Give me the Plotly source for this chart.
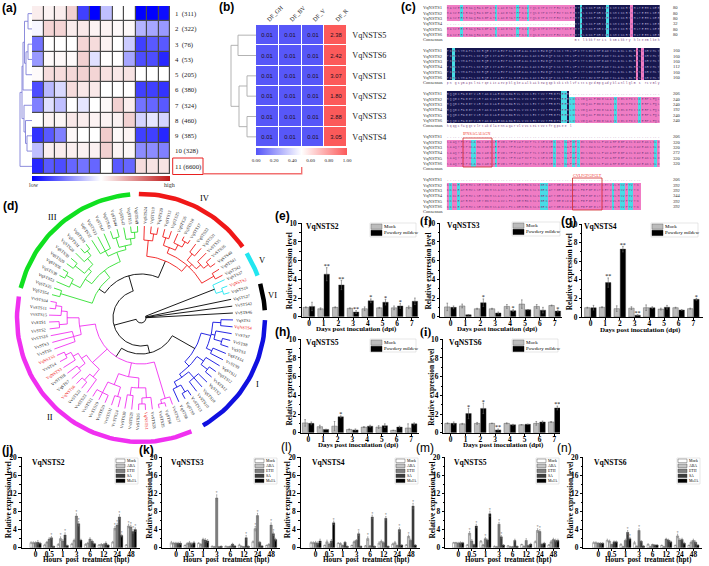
import math
import plotly.graph_objects as go

W, H = 709, 566
SERIF = "Liberation Serif"
SANS = "Liberation Sans"

# ---- panel a: cluster heatmap
a_rows = ["1  (311)", "2  (322)", "3  (76)", "4  (53)", "5  (205)", "6  (380)",
          "7  (324)", "8  (460)", "9  (385)", "10 (328)", "11 (6600)"]
a_z = [
    [.08, .05, .08, .2, -.75, -1, -.25, 0, 0, -1, -1, -.95],
    [-.03, .18, .18, .08, .1, .05, .05, .03, .03, -.3, -.35, -.4],
    [-.55, 0, 0, 0, .18, .15, .05, 0, -.2, -.75, -.65, -.65],
    [-.4, .02, .03, .02, .2, -.12, 0, 0, -.35, -.7, -.7, -.85],
    [.02, .15, .15, .17, .2, .18, .13, .1, .12, 0, 0, 0],
    [-.7, -.28, -.15, .15, .1, .1, 0, 0, 0, -.75, -.75, -.8],
    [-.5, -.12, -.25, 0, -.1, 0, .03, .2, .08, -.55, -.6, -.65],
    [0, .05, .04, .1, .08, .05, .05, .06, .2, -.17, -.1, -.17],
    [-.8, -.65, -.5, .03, 0, 0, .22, .03, .05, -.75, -.75, -.85],
    [-.25, .07, .08, .07, .06, .06, .2, .05, .04, -.45, -.45, -.5],
    [-.85, -.65, -.7, -.6, -.55, -.6, 0, -.65, -.6, .15, .12, .12],
]
# (height, left, right), leaves are row numbers
a_tree = (12, (10, (9, (7.5, (4, 1, 2), (6, (4, 3, 4), 5)), 6),
               (8, 7, (6.5, 8, (5, 9, 10)))), 11)

# ---- panel b
b_rows = ["VqNSTS5", "VqNSTS6", "VqNSTS1", "VqNSTS2", "VqNSTS3", "VqNSTS4"]
b_cols = ["DF_GH", "DF_BV", "DF_V", "DF_R"]
b_df_r = [2.38, 2.42, 3.07, 1.80, 2.88, 3.05]
b_df_other = [0.01, 0.01, 0.01]
b_tree = (25, (18, 1, 2), (17, (9, 3, 4), (9, 5, 6)))

# ---- panel c: alignment, one string per block
c_seq = [
    "MASVEEIRNAQRAKGPATILAIGTATPPNCVYQSDYPDYYFRVTKSEHMTELKKKFNRICEKSMIKKRYIHLTEEMLKEH",
    "PNMCSYMAPSLNIRQEIITAEVPKLGKEAALKAIKEWGQPKSKITHLVFCTTSGVDMPGADYKLANLLGLRPSVKRVMLY",
    "HQQGCFAGGTVLRTAKDLAENNAGARVLVVCSEITVVTFRGPSEEHLDSLVGQALFGDGSAAVIIGSDPDISIERPLFQLV",
    "SAAQTFIPNSAGAIAGNLREVGLTFHLWPNVPTLISENIEKCLTKAFDPLGISDWNSLFWIAHPGGPAILDAVEAKLNLD",
    "KKKLEATRHVLSEYGNMSSACVLFILDEMRKKSLKGEKATTGEGLDWGVLFGFGPGLTIETVVLHSVPTVTN",
]
c_consensus = [
    " " * 48 + "mt lkkkfnric ksmikkry hlteemlkeh",
    "pn gsymapslnirqeiitaevpklgkeaalkaikewgqpkskithlvfcttsgvdmpgadyklanllglm s rcvmly",
    "hqqgcfaggtvlrtakdlaennagarvlvvcseitvvtfrgpsee l",
    "",
    "",
]
c_runs = [
    [("P", 5), ("C", 1), ("P", 12), ("C", 1), ("P", 7), ("C", 1), ("P", 3), ("C", 1), ("P", 17),
     ("N", 2), ("C", 1), ("N", 9), ("C", 1), ("N", 8), ("P", 1), ("N", 10)],
    [("N", 2), ("C", 1), ("N", 68), ("P", 1), ("N", 1), ("P", 1), ("N", 6)],
    [("N", 43), ("C", 2), ("N", 1), ("C", 2), ("P", 15), ("C", 1), ("P", 8), ("C", 1), ("P", 7)],
    [("P", 9), ("C", 2), ("P", 7), ("C", 1), ("P", 21), ("C", 1), ("P", 3), ("C", 1), ("P", 2),
     ("C", 1), ("P", 1), ("C", 1), ("P", 28), ("C", 1), ("P", 1)],
    [("P", 1), ("C", 1), ("P", 2), ("C", 1), ("P", 30), ("C", 3), ("P", 24), ("C", 1), ("P", 2),
     ("C", 2), ("P", 1), ("C", 2), ("P", 3)],
]
c_names = ["VqNSTS1", "VqNSTS2", "VqNSTS3", "VqNSTS4", "VqNSTS5", "VqNSTS6"]
c_ends = [[80, 80, 80, 32, 80, 80], [160, 160, 160, 112, 160, 160], [206, 240, 240, 192, 240, 240],
          [206, 320, 320, 272, 320, 320], [206, 392, 392, 344, 392, 392]]

# ---- panel d: tree, clockwise from clade V round to clade IV
d_V = ["VqSTS37", "VqNSTS2", "VqSTS16"]
d_VI = ["VqSTS27", "VvSTS42", "VvSTS46"]
d_I = ["VqSTS1", "VqNSTS4", "VvSTS7", "VvSTS8", "VqSTS3", "VqSTS14", "VvSTS9", "VqSTS11",
       "VqSTS12", "VvSTS12", "VqSTS2", "VqSTS10", "VvSTS10", "VvSTS13", "VqSTS9", "VqSTS8"]
d_II = ["VvSTS27", "VqSTS6", "VvSTS25", "VvSTS28", "VqNSTS1", "VvSTS26", "VvSTS29", "VvSTS30",
        "VvSTS24", "VvSTS31", "VvSTS20", "VvSTS19", "VvSTS21", "VvSTS23", "VvSTS22", "VqNSTS6",
        "VqSTS7", "VvSTS18", "VqNSTS3", "VvSTS4", "VqNSTS5", "VvSTS5", "VvSTS3", "VvSTS16",
        "VvSTS2", "VvSTS1", "VvSTS15", "VvSTS11", "VvSTS34"]
d_III = ["VqSTS54", "VqSTS35", "VqSTS53", "VqSTS38", "VqSTS56", "VqSTS29", "VqSTS30", "VqSTS28",
         "VqSTS31", "VqSTS39", "VqSTS32", "VqSTS33", "VqSTS47", "VqSTS45", "VqSTS44", "VqSTS43",
         "VqSTS15", "VqSTS49"]
d_IV = ["VqSTS24", "VqSTS19", "VqSTS20", "VqSTS13", "VqSTS25", "VqSTS26", "VqSTS18", "VqSTS17",
        "VqSTS22", "VqSTS21", "VvSTS35", "VvSTS36", "VqSTS40", "VqSTS41", "VqSTS42"]
d_labels = d_V + d_VI + d_I + d_II + d_III + d_IV

# node = (radius, children[, colour]), 0 = next leaf
tree_V = (79, [0, (86, [0, 0])], "#22e6f0")
tree_I = (62, [(72, [(80, [0, 0]), (76, [0, (84, [0, 0])]), (78, [0, 0])]),
               (68, [(76, [0, (84, [0, 0])]), (72, [(80, [0, 0, 0]), (78, [(86, [0, 0]), 0])])])], "#1010e0")
tree_II = (46, [(84, [0, (88, [0, 0])]),
                (60, [(70, [(80, [0, (86, [0, 0])]), (78, [0, 0])]), (72, [(82, [0, 0]), (84, [0, 0, 0])])]),
                (66, [(76, [0, (84, [0, 0])]), (72, [(80, [0, 0]), (78, [0, (84, [0, 0])])])]),
                (62, [(70, [0, 0, 0]), (74, [(82, [0, 0]), (80, [0, (86, [0, 0])])])])], "#f030f0")
tree_III = (51, [(84, [0, 0]),
                 (60, [(68, [(78, [0, (86, [0, 0])]), (72, [(84, [0, 0]), (80, [0, (86, [0, 0])])])]),
                       (70, [(76, [0, 0, 0]), (74, [(84, [0, 0]), (80, [0, (86, [0, 0])])])])])], "#30e030")
tree_IV = (62, [(78, [0, (85, [0, 0])]),
                (70, [(76, [(84, [0, 0]), (82, [0, (88, [0, 0])])]),
                      (74, [(82, [0, 0]), (80, [0, (86, [0, 0])])]), (84, [0, 0])])], "#f01818")
tree_d = (5, [tree_V, 0, 0, 0, (28, [(36, [tree_I, tree_II]), (44, [tree_III, tree_IV])])])

d_clades = ["I", "II", "III", "IV", "V", "VI"]
d_ring_start = [-1, -66, 166, 91, 31.5, 16]
d_ring_end = [-60, -190, 95, 35, 20, 3.6]
d_ring_colour = ["#1010e0", "#f030f0", "#10e020", "#f01818", "#22e6f0", "#000000"]

# ---- panels e-i: powdery mildew
days = ["0", "1", "2", "3", "4", "5", "6", "7"]
e_mock = [1.0, .85, 1.0, .9, .85, .95, .95, 1.0]
e_pm = [1.1, 4.55, 3.4, .5, 1.7, 1.55, 1.15, 1.65]
e_mock_err = [.05, .1, .05, .05, .2, .05, .2, .15]
e_pm_err = [.45, .7, .5, .15, .2, .3, .25, .35]
e_stars = ["", "**", "**", "**", "*", "*", "*", ""]
f_mock = [1.05, 1.15, .85, .85, 1.1, 1.35, 1.1, 1.2]
f_pm = [1.0, .2, 1.5, .4, .65, .75, .7, .6]
f_mock_err = [.4, .2, .05, .05, .2, .45, .2, .05]
f_pm_err = [.15, .02, .4, .1, .1, .02, .3, .1]
f_stars = ["", "", "*", "", "*", "", "", "*"]
g_mock = [1.0, 1.05, .9, .95, 1.0, .85, 1.0, .9]
g_pm = [1.0, 3.7, 7.3, .2, 1.0, 1.05, .75, 1.9]
g_mock_err = [.05, .05, .3, .15, .3, .1, .05, .05]
g_pm_err = [.25, .5, .3, .05, .1, .2, .05, .1]
g_stars = ["", "**", "**", "**", "", "", "", "*"]
h_mock = [1.05, .65, .7, .35, .6, .6, .25, .5]
h_pm = [1.0, .35, 1.7, .3, .7, .75, .6, .95]
h_mock_err = [.35, .15, .5, .05, .05, .15, .02, .45]
h_pm_err = [.15, .02, .1, .1, .1, .2, .1, .1]
h_stars = ["", "", "*", "", "", "", "", ""]
i_mock = [1.0, .95, 1.0, 1.0, 1.0, .85, 1.0, 1.15]
i_pm = [1.0, 2.05, 2.6, .3, .85, .9, 1.15, 2.65]
i_mock_err = [.05, .05, .1, .02, .05, .02, .2, .05]
i_pm_err = [.15, .55, .55, .1, .05, .02, .1, .2]
i_stars = ["", "*", "*", "**", "", "", "", "**"]

# ---- panels j-n: hormones, one row per treatment
hours = ["0", "0.5", "1", "3", "6", "12", "24", "48"]
treatments = ["Mock", "ABA", "ETH", "SA", "MeJA"]
treat_colours = ["#ffffff", "#c4c4c4", "#808080", "#3c3c3c", "#000000"]
j_values = [[1.1, .6, .7, .8, .7, .6, 1.2, .6], [1.1, 1.2, 2.0, 1.6, 1.0, .7, 4.3, 4.8],
            [1.1, 1.9, 1.5, 7.0, 1.9, .7, 5.0, 4.6], [1.2, 2.2, 2.8, 5.3, 1.4, 1.0, 6.8, 3.6],
            [1.0, .3, .5, 1.7, .9, .6, 2.7, 4.0]]
j_errors = [[.2, .2, .2, .2, .2, .1, .2, .1], [.2, .2, .4, .3, .2, .2, .4, .4],
            [.2, .3, .3, .5, .3, .2, .4, .4], [.4, .3, .5, .5, .3, .3, .5, .4],
            [.2, .1, .1, .2, .1, .1, .3, .4]]
k_values = [[1.1, .5, 1.0, .3, .3, .6, 1.3, .5], [1.0, .9, .7, .2, .2, .3, 4.2, .7],
            [1.0, 1.1, 1.8, 11.0, .3, .2, 7.1, 5.0], [1.0, .9, 1.7, .2, .8, 2.2, 1.2, 3.1],
            [1.0, 1.1, 1.5, .3, .4, .3, .4, 1.8]]
k_errors = [[.3, .1, .1, .1, .1, .2, .2, .1], [.2, .2, .2, .1, .1, .1, .5, .2],
            [.2, .3, .3, .7, .1, .1, .5, .5], [.2, .2, .3, .1, .2, .5, .2, .4],
            [.3, .3, .3, .1, .1, .1, .1, .3]]
l_values = [[1.1, .5, 1.0, .5, .4, 1.0, .8, .6], [1.1, 1.3, .9, 1.3, 2.0, 1.4, 1.1, 2.5],
            [1.1, .8, .5, 1.6, .4, 1.1, .5, 1.6], [1.0, 1.5, 1.2, 3.1, 6.8, 6.5, 4.0, 9.2],
            [1.5, 5.5, .3, .3, .3, .3, .6, .6]]
l_errors = [[.2, .1, .1, .1, .1, .3, .2, .1], [.2, .4, .2, .2, .4, .3, .3, .3],
            [.3, .2, .1, .2, .1, .2, .1, .3], [.3, .3, .2, .4, .4, .4, .4, .6],
            [.4, .4, .1, .1, .1, .1, .1, .1]]
m_values = [[1.1, .6, 1.4, .3, .4, .7, 1.3, .6], [1.1, 3.2, .6, .2, .2, .3, 3.8, 1.3],
            [1.0, 1.5, 2.0, 5.2, .2, 1.6, 3.6, 1.8], [1.1, .7, 1.7, 2.4, 1.6, .5, .8, 1.6],
            [1.1, 4.8, 7.5, .6, .3, .8, 1.0, 1.6]]
m_errors = [[.1, .1, .2, .1, .1, .1, .2, .1], [.1, .4, .1, .1, .1, .1, .4, .3],
            [.2, .3, .3, .4, .1, .4, .4, .3], [.2, .1, .2, .3, .3, .1, .2, .3],
            [.1, .4, .6, .1, .1, .2, .2, .3]]
n_values = [[1.1, 1.6, .7, 1.1, .7, .5, .5, .5], [1.1, 1.4, .2, .3, .2, .2, 2.6, 1.2],
            [1.0, .7, 1.6, 3.8, .7, 1.9, 1.7, 1.6], [1.0, 1.3, 3.4, 1.4, .6, 1.7, 1.8, 1.2],
            [1.0, 1.3, 2.0, .4, .6, 1.3, 1.0, .6]]
n_errors = [[.2, .3, .2, .3, .2, .1, .1, .1], [.2, .3, .1, .1, .1, .1, .4, .3],
            [.1, .1, .3, .4, .1, .2, .3, .3], [.1, .2, .4, .2, .1, .2, .3, .3],
            [.1, .2, .3, .1, .1, .2, .2, .1]]

fig = go.Figure()
annotations = []
shapes = []
axis_no = 1


def new_axes(left, top, right, bottom, xopts, yopts):
    global axis_no
    axis_no += 1
    n = axis_no
    fig.layout[f"xaxis{n}"] = dict(domain=[left / W, right / W], anchor=f"y{n}", **xopts)
    fig.layout[f"yaxis{n}"] = dict(domain=[1 - bottom / H, 1 - top / H], anchor=f"x{n}", **yopts)
    return f"x{n}", f"y{n}"


def label(px, py, s, size=7, family=SERIF, bold=False, color="black", angle=0, anchor="center"):
    annotations.append(dict(xref="paper", yref="paper", x=px / W, y=1 - py / H, text=s, showarrow=False,
                            xanchor=anchor, yanchor="middle", textangle=angle, borderpad=0,
                            font=dict(size=size, family=family, color=color, weight="bold" if bold else "normal")))


def rect(x0, y0, x1, y1, line=None, fill=None, width=0.6, layer="above"):
    shapes.append(dict(type="rect", xref="paper", yref="paper", x0=x0 / W, x1=x1 / W, y0=1 - y0 / H, y1=1 - y1 / H,
                       line=dict(color=line or "rgba(0,0,0,0)", width=width), fillcolor=fill, layer=layer))


def dendrogram(node, colour, xa, ya):
    xs, ys = [], []

    def walk(n):
        if not isinstance(n, tuple):
            return 0, n
        h0, y0 = walk(n[1])
        h1, y1 = walk(n[2])
        xs.extend([h0, n[0], n[0], h1, None])
        ys.extend([y0, y0, y1, y1, None])
        return n[0], (y0 + y1) / 2

    walk(node)
    fig.add_trace(go.Scatter(x=xs, y=ys, mode="lines", line=dict(color=colour, width=0.9),
                             xaxis=xa, yaxis=ya, hoverinfo="skip"))


# panel a
rows_a = list(range(1, 12))
xa, ya = new_axes(32, 6, 170, 174, dict(visible=False, range=[-.5, 11.5]),
                  dict(range=[11.5, .5], side="right", tickvals=rows_a, ticktext=a_rows, ticks="",
                       showgrid=False, zeroline=False, showline=False, ticklabelstandoff=4,
                       tickfont=dict(family=SERIF, size=6.8, color="#222")))
rect(32, 6, 170, 174, fill="#4a4a4a", layer="below")
fig.add_trace(go.Heatmap(z=a_z, x=list(range(12)), y=rows_a, xaxis=xa, yaxis=ya, zmin=-1, zmax=1, xgap=1.2, ygap=1.2,
                         colorscale=[[0, "#0000ff"], [.5, "#ffffff"], [1, "#c01818"]], hoverinfo="skip",
                         colorbar=dict(orientation="h", x=32 / W, xanchor="left", y=1 - 175.5 / H, yanchor="top",
                                       len=138, lenmode="pixels", thickness=5, thicknessmode="pixels", outlinewidth=0,
                                       xpad=0, ypad=0, ticks="", showticklabels=False)))
xa, ya = new_axes(17, 6, 32, 174, dict(visible=False, range=[15, 0]), dict(visible=False, range=[11.5, .5]))
dendrogram(a_tree, "#8080d8", xa, ya)
label(34, 184.5, "low", size=6, color="#333")
label(169, 184.5, "high", size=6, color="#333")
rect(172.7, 158, 203, 174.5, line="#e82020", width=1)
shapes.append(dict(type="path", xref="paper", yref="paper", line=dict(color="#f27070", width=1.4),
                   path=f"M {203 / W} {1 - 173.7 / H} L {301.7 / W} {1 - 173.7 / H} L {301.7 / W} {1 - 167 / H}"))

# panel b
b_z = [b_df_other + [v] for v in b_df_r]
b_text = [[f"{v:.2f}" for v in row] for row in b_z]
rows_b = list(range(1, 7))
xa, ya = new_axes(256, 25, 347.3, 147,
                  dict(side="top", tickvals=[0, 1, 2, 3], ticktext=b_cols, tickangle=-45, range=[-.5, 3.5], ticks="",
                       showgrid=False, zeroline=False, showline=False, tickfont=dict(family=SERIF, size=6, color="#222")),
                  dict(side="right", tickvals=rows_b, ticktext=b_rows, range=[6.5, .5], ticks="", showgrid=False,
                       zeroline=False, showline=False, ticklabelstandoff=4, tickfont=dict(family=SERIF, size=8.2, color="#222")))
fig.add_trace(go.Heatmap(z=b_z, text=b_text, texttemplate="%{text}", textfont=dict(size=5.8, family=SANS, color="#201020"),
                         x=[0, 1, 2, 3], y=rows_b, xaxis=xa, yaxis=ya, zmin=0, zmax=1, xgap=1, ygap=1, hoverinfo="skip",
                         colorscale=[[0, "#5454f8"], [.5, "#ffffff"], [1, "#fc5a5a"]],
                         colorbar=dict(orientation="h", x=256 / W, xanchor="left", y=1 - 148 / H, yanchor="top",
                                       len=91.3, lenmode="pixels", thickness=7, thicknessmode="pixels", outlinewidth=0,
                                       xpad=0, ypad=0, tick0=0, dtick=.2, tickformat=".2f", ticks="", ticklabelposition="outside",
                                       tickfont=dict(family=SERIF, size=5, color="#222"))))
xa, ya = new_axes(230, 25, 256, 147, dict(visible=False, range=[26, 0]), dict(visible=False, range=[6.5, .5]))
dendrogram(b_tree, "#aaaaaa", xa, ya)

# panel c, 8 grid rows per block: 6 sequences, consensus, blank
C_ROW = 5.375
CATS = {"W": 0, "P": 1, "C": 2, "N": 3}
c_z, c_text = [], []
for b in range(5):
    cols = "".join(k * n for k, n in c_runs[b])
    seq = c_seq[b].ljust(len(cols))[:len(cols)]
    for r in range(6):
        z_row = [CATS[k] for k in cols] + [0] * (80 - len(cols))
        t_row = list(seq) + [""] * (80 - len(cols))
        blank = []
        if b == 0 and r == 3:
            blank = range(48)
        if r == 0 and b == 2:
            blank = range(46, 80)
        if r == 0 and b >= 3:
            blank = range(len(cols))
        for k in blank:
            z_row[k] = 0
            t_row[k] = "."
        c_z.append(z_row)
        c_text.append(t_row)
        row_y = 5 + (len(c_z) - .5) * C_ROW
        label(421.7, row_y, c_names[r], size=4.6, color="#333", anchor="left")
        label(671.5, row_y, str(c_ends[b][r]), size=4.6, color="#333", anchor="left")
    c_z.append([0] * 80)
    c_text.append(list(c_consensus[b].ljust(80)[:80]))
    label(421.7, 5 + (len(c_z) - .5) * C_ROW, "Consensus", size=4.6, color="#333", anchor="left")
    if b < 4:
        c_z.append([0] * 80)
        c_text.append([""] * 80)

xa, ya = new_axes(446.7, 5, 660, 5 + 39 * C_ROW, dict(visible=False, range=[-.5, 79.5]), dict(visible=False, range=[38.5, -.5]))
fig.add_trace(go.Heatmap(z=c_z, xaxis=xa, yaxis=ya, zmin=-.5, zmax=3.5, showscale=False, hoverinfo="skip",
                         colorscale=[[0, "#ffffff"], [.25, "#ffffff"], [.25, "#f07cc4"], [.5, "#f07cc4"],
                                     [.5, "#48dce6"], [.75, "#48dce6"], [.75, "#17174f"], [1, "#17174f"]]))
# residues on navy are pale, all the others plum
c_clear = [[0] * 80 for _ in c_z]
c_text_navy = [[t if z == 3 else "" for t, z in zip(tr, zr)] for tr, zr in zip(c_text, c_z)]
c_text_other = [[t if z != 3 else "" for t, z in zip(tr, zr)] for tr, zr in zip(c_text, c_z)]
for texts, colour in [(c_text_navy, "#a8a4d0"), (c_text_other, "#7a3c80")]:
    fig.add_trace(go.Heatmap(z=c_clear, text=texts, texttemplate="%{text}", showscale=False, hoverinfo="skip",
                             textfont=dict(size=3, family="Liberation Mono", color=colour), xaxis=xa, yaxis=ya,
                             colorscale=[[0, "rgba(0,0,0,0)"], [1, "rgba(0,0,0,0)"]]))
rect(463, 138, 492, 167, line="#d02828", width=0.8)
label(477, 133, "IPNSAGAIAGN", size=4, color="#f03030")
rect(572.5, 178, 602, 210, line="#d02828", width=0.8)
label(587, 175.5, "GVLFGFGPGLT", size=4, color="#f03030")

# panel d, 1 data unit = 1 px, centre of the rings at (141, 318)
xa, ya = new_axes(10, 190, 275, 445, dict(visible=False, range=[-131, 134]), dict(visible=False, range=[-127, 128]))
d_step = 4.3
d_first = 24.6
leaf_no = [0]
tree_lines = {}
tip_r = 92


def pol(r, deg):
    return r * math.cos(math.radians(deg)), r * math.sin(math.radians(deg))


def add_arc(colour, r, t0, t1):
    seg = tree_lines.setdefault(colour, ([], []))
    steps = max(2, int(abs(t1 - t0) / 2) + 1)
    for k in range(steps + 1):
        x, y = pol(r, t0 + (t1 - t0) * k / steps)
        seg[0].append(x)
        seg[1].append(y)
    seg[0].append(None)
    seg[1].append(None)


def add_radial(colour, r0, r1, t):
    seg = tree_lines.setdefault(colour, ([], []))
    x0, y0 = pol(r0, t)
    x1, y1 = pol(r1, t)
    seg[0].extend([x0, x1, None])
    seg[1].extend([y0, y1, None])


def walk_tree(node, colour):
    if node == 0:
        t = d_first - leaf_no[0] * d_step
        name = d_labels[leaf_no[0]]
        leaf_no[0] += 1
        cx, cy = pol(103, t)
        angle = -t
        while angle < -90:
            angle += 180
        while angle > 90:
            angle -= 180
        annotations.append(dict(xref=xa, yref=ya, x=cx, y=cy, text=name, showarrow=False, textangle=angle, borderpad=0,
                                font=dict(size=4.3, family=SERIF, color="#f02020" if name.startswith("VqN") else "#222")))
        return t, tip_r
    node_colour = node[2] if len(node) > 2 else colour
    placed = [walk_tree(c, node_colour) for c in node[1]]
    for t, r in placed:
        add_radial(node_colour, node[0], r, t)
    add_arc(node_colour, node[0], placed[0][0], placed[-1][0])
    return (placed[0][0] + placed[-1][0]) / 2, node[0]


walk_tree(tree_d, "#000000")
assert leaf_no[0] == len(d_labels)
for colour, (xs, ys) in tree_lines.items():
    fig.add_trace(go.Scatter(x=xs, y=ys, mode="lines", line=dict(color=colour, width=0.9), xaxis=xa, yaxis=ya, hoverinfo="skip"))
for c in range(6):
    steps = int(abs(d_ring_end[c] - d_ring_start[c]) / 2) + 2
    thetas = [d_ring_start[c] + (d_ring_end[c] - d_ring_start[c]) * k / steps for k in range(steps + 1)]
    fig.add_trace(go.Scatter(x=[pol(124, t)[0] for t in thetas], y=[pol(124, t)[1] for t in thetas], mode="lines",
                             line=dict(color=d_ring_colour[c], width=4.5), xaxis=xa, yaxis=ya, hoverinfo="skip"))
for name, px, py in [("I", 257, 384), ("II", 50, 417), ("III", 52, 217), ("IV", 205, 198), ("V", 262, 260), ("VI", 272, 295)]:
    label(px, py, name, size=8.5)


def axis_style(tickfont_size=7.4):
    return dict(showgrid=False, zeroline=False, showline=True, linecolor="black", linewidth=0.8, ticks="outside",
                ticklen=2.5, tickwidth=0.8, tickcolor="black",
                tickfont=dict(family=SERIF, size=tickfont_size, weight="bold", color="black"))


def expr_axes(left, top, right, bottom, x0, step, ymax, ydtick, cats):
    return new_axes(left, top, right, bottom,
                    dict(range=[(left - x0) / step, (right - x0) / step], tickvals=list(range(8)), ticktext=cats,
                         ticklabelstandoff=-3, **axis_style()),
                    dict(range=[0, ymax], tick0=0, dtick=ydtick, minor=dict(dtick=ydtick / 2, ticks="outside", ticklen=1.5,
                                                                            tickcolor="black", tickwidth=.6), **axis_style()))


def mildew_panel(title, mock, pm, mock_err, pm_err, stars, left, top, right, bottom, x0, step, title_x, title_y, leg, xlabel_x):
    xa, ya = expr_axes(left, top, right, bottom, x0, step, 10, 2, days)
    idx = list(range(8))
    for vals, errs, colour, off in [(mock, mock_err, "#bcbcbc", -.4), (pm, pm_err, "#000000", 0.02)]:
        fig.add_trace(go.Bar(x=idx, y=vals, width=.37, offset=off, marker=dict(color=colour, line=dict(color="#444", width=.4)),
                             error_y=dict(type="data", array=errs, color="#666", thickness=.6, width=.8),
                             xaxis=xa, yaxis=ya, hoverinfo="skip"))
    fig.add_trace(go.Scatter(x=[i + .2 for i in idx], y=[pm[i] + pm_err[i] + .12 for i in idx], text=stars, mode="text",
                             textposition="middle center", textfont=dict(size=6, family=SERIF, color="black"),
                             xaxis=xa, yaxis=ya, hoverinfo="skip"))
    label(title_x, title_y, title, size=7.6, bold=True)
    label(left - 12.5, (top + bottom) / 2 + 1, "Relative expression level", size=7.4, bold=True, angle=-90)
    label(xlabel_x, bottom + 12.5, "Days post inoculation (dpi)", size=7, bold=True)
    # small legend box
    lx0, ly0, lx1, ly1 = leg
    rect(lx0, ly0, lx1, ly1, line="#ccc", fill="white", width=.5)
    rect(lx0 + 1, ly0 + 1, lx0 + 12, ly0 + 6.2, line="#555", fill="#bcbcbc", width=.4)
    rect(lx0 + 1, ly0 + 7.2, lx0 + 12, ly0 + 12.6, line="#000", fill="#000", width=.4)
    label(lx0 + 13, ly0 + 3.6, "Mock", size=5, anchor="left")
    label(lx0 + 13, ly0 + 9.9, "Powdery mildew", size=5, anchor="left")


mildew_panel("VqNSTS2", e_mock, e_pm, e_mock_err, e_pm_err, e_stars, 301.7, 223.3, 419, 316.7, 309, 14.7, 322.7, 226.7, (370, 223, 416, 237), 356.7)
mildew_panel("VqNSTS3", f_mock, f_pm, f_mock_err, f_pm_err, f_stars, 440, 223.3, 562, 316.7, 450.5, 14.9, 463, 226, (512, 222, 560, 236), 497)
mildew_panel("VqNSTS4", g_mock, g_pm, g_mock_err, g_pm_err, g_stars, 582.3, 224, 703, 317, 590.5, 14.7, 600, 227, (651, 223, 698, 237), 640)
mildew_panel("VqNSTS5", h_mock, h_pm, h_mock_err, h_pm_err, h_stars, 301, 339.3, 419, 432.7, 308.3, 14.7, 322, 342, (370, 339, 416, 352), 358)
mildew_panel("VqNSTS6", i_mock, i_pm, i_mock_err, i_pm_err, i_stars, 443.3, 339.3, 560, 432.7, 450.7, 14.8, 465, 342, (512, 339, 558, 352), 503)


def hormone_panel(title, values, errors, left, right, x0, title_x, leg_x):
    top, bottom = 457.3, 547.7
    xa, ya = expr_axes(left, top, right, bottom, x0, 13.6, 20, 4, hours)
    w = .165
    for s in range(5):
        offset = -.42 + s * w
        fig.add_trace(go.Bar(x=list(range(8)), y=values[s], width=w, offset=offset,
                             marker=dict(color=treat_colours[s], line=dict(color="#333", width=.35)),
                             error_y=dict(type="data", array=errors[s], color="#777", thickness=.5, width=.6),
                             xaxis=xa, yaxis=ya, hoverinfo="skip"))
        tall = [i for i in range(8) if values[s][i] >= 2]
        fig.add_trace(go.Scatter(x=[i + offset + w / 2 for i in tall], y=[values[s][i] + errors[s][i] + .3 for i in tall],
                                 text=["*"] * len(tall), mode="text", textfont=dict(size=4, color="#666"),
                                 xaxis=xa, yaxis=ya, hoverinfo="skip"))
    label(title_x, 462, title, size=7.6, bold=True)
    label(left - 12.5, 500, "Relative expression level", size=7.4, bold=True, angle=-90)
    label(x0 + 50.5, 560, "Hours  post  treatment (hpt)", size=7.2, bold=True)
    rect(leg_x, 458, leg_x + 23, 484, line="#ccc", fill="white", width=.5)
    for s in range(5):
        rect(leg_x + 1, 459 + s * 5, leg_x + 10, 462.6 + s * 5, line="#333", fill=treat_colours[s], width=.4)
        label(leg_x + 11, 460.8 + s * 5, treatments[s], size=3.8, anchor="left")


hormone_panel("VqNSTS2", j_values, j_errors, 21.7, 140, 35.7, 48, 115)
hormone_panel("VqNSTS3", k_values, k_errors, 162.3, 280, 176, 188, 254)
hormone_panel("VqNSTS4", l_values, l_errors, 300.7, 420, 315.7, 328, 395)
hormone_panel("VqNSTS5", m_values, m_errors, 445, 560, 458.3, 470, 536)
hormone_panel("VqNSTS6", n_values, n_errors, 583.3, 702, 598.3, 610.7, 677)

# panel letters
for s, px, py, fam, bold in [("(a)", 9.5, 8, SANS, True), ("(b)", 226, 7, SANS, True), ("(c)", 408, 7, SANS, True),
                             ("(d)", 10, 206, SANS, True), ("(e)", 282.5, 216, SANS, True), ("(h)", 282.5, 332, SANS, True),
                             ("(f)", 426, 220.5, SERIF, True), ("(g)", 568, 221, SANS, True), ("(i)", 426, 332, SERIF, True),
                             ("(j)", 7, 450, SANS, True), ("(k)", 146, 450, SANS, True), ("(l)", 286, 447, SANS, False),
                             ("(m)", 425, 448, SANS, False), ("(n)", 564, 448, SANS, False)]:
    label(px, py, s, size=12, family=fam, bold=bold)

fig.update_layout(width=W, height=H, margin=dict(l=0, r=0, t=0, b=0, autoexpand=False), paper_bgcolor="white",
                  plot_bgcolor="rgba(0,0,0,0)", showlegend=False, barmode="overlay", annotations=annotations, shapes=shapes)
fig.write_html("out.html", config={"displayModeBar": False},
               post_script="document.body.style.margin='0';document.body.style.overflow='hidden';")
